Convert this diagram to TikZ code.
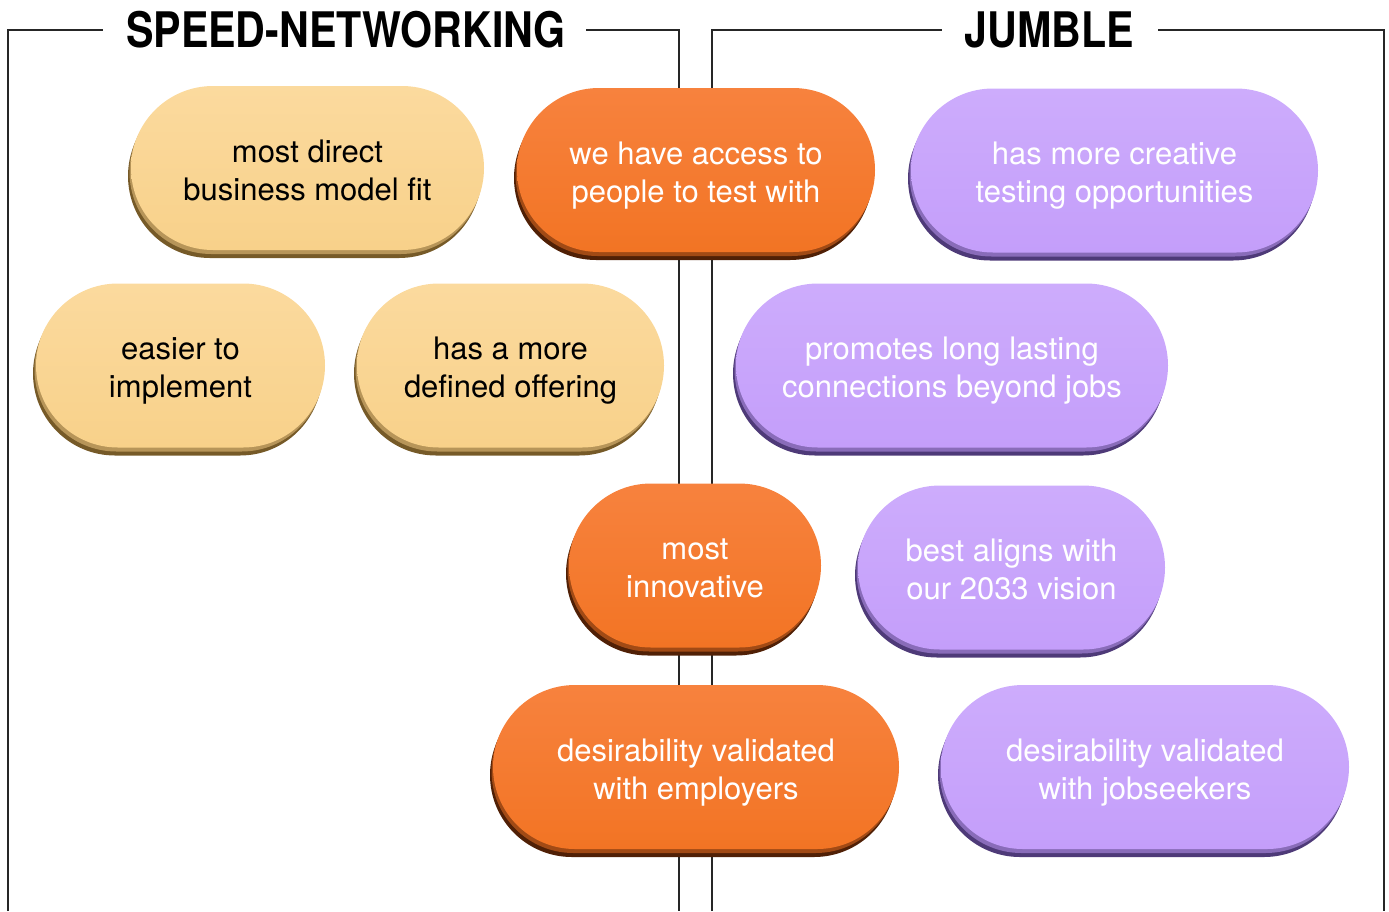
\documentclass[tikz,border=0pt]{standalone}
\usepackage{fontspec}
\setmainfont{TeX Gyre Heros}
\usetikzlibrary{shapes.misc,shadows}
\definecolor{yelface}{RGB}{248,209,138}
\definecolor{yeltop}{RGB}{251,218,158}
\definecolor{yelrim}{RGB}{118,90,40}
\definecolor{orgface}{RGB}{242,116,36}
\definecolor{orgtop}{RGB}{247,130,62}
\definecolor{orgrim}{RGB}{80,32,6}
\definecolor{prpface}{RGB}{196,158,250}
\definecolor{prptop}{RGB}{205,172,252}
\definecolor{prprim}{RGB}{78,58,120}
\begin{document}
\begin{tikzpicture}[x=1pt,y=-1pt,
	frame/.style={line width=2.4pt,black!85},
	title/.style={font=\fontsize{49}{58}\selectfont\bfseries, inner sep=0pt},
	pill/.style={rounded rectangle, minimum height=164pt, inner sep=0pt, align=center,
		text height=64pt, text depth=0pt, font=\fontsize{31}{38}\selectfont},
	yel/.style={pill, top color=yeltop, middle color=yelface, bottom color=yelface, text=black,
		drop shadow={shadow xshift=-3pt, shadow yshift=-8pt, opacity=1, fill=yelrim},
		drop shadow={shadow xshift=-1.5pt, shadow yshift=-4pt, opacity=1, fill=yelrim!50!yelface}},
	org/.style={pill, top color=orgtop, middle color=orgface, bottom color=orgface, text=white,
		drop shadow={shadow xshift=-3pt, shadow yshift=-8pt, opacity=1, fill=orgrim},
		drop shadow={shadow xshift=-1.5pt, shadow yshift=-4pt, opacity=1, fill=orgrim!50!orgface}},
	prp/.style={pill, top color=prptop, middle color=prpface, bottom color=prpface, text=white,
		drop shadow={shadow xshift=-3pt, shadow yshift=-8pt, opacity=1, fill=prprim},
		drop shadow={shadow xshift=-1.5pt, shadow yshift=-4pt, opacity=1, fill=prprim!50!prpface}}]
	\useasboundingbox (0,0) rectangle (1389,911);
	% frames
	\draw[frame] (8,911) -- (8,30) -- (103,30);
	\draw[frame] (586,30) -- (679,30) -- (679,911);
	\draw[frame] (712,911) -- (712,30) -- (942,30);
	\draw[frame] (1158,30) -- (1384,30) -- (1384,911);
	\node[title] (speed) at (346,30) {\scalebox{0.84}[1]{SPEED-NETWORKING}};
	\node[title] (jumble) at (1049,30) {\scalebox{0.84}[1]{JUMBLE}};
	% pills
	\node[yel, minimum width=353pt] (fit) at (307.5,168) {most direct\\business model fit};
	\node[org, minimum width=358pt] (access) at (696,170) {we have access to\\people to test with};
	\node[prp, minimum width=407pt] (creative) at (1114.5,170.5) {has more creative\\testing opportunities};
	\node[yel, minimum width=289pt] (easier) at (180.5,365.5) {easier to\\implement};
	\node[yel, minimum width=307pt] (offering) at (510.5,365.5) {has a more\\defined offering};
	\node[prp, minimum width=432pt] (lasting) at (952,365.5) {promotes long lasting\\connections beyond jobs};
	\node[org, minimum width=252pt] (innov) at (695,565.5) {most\\innovative};
	\node[prp, minimum width=307pt] (vision) at (1011.5,567.5) {best aligns with\\our 2033 vision};
	\node[org, minimum width=406pt] (employ) at (696,767) {desirability validated\\with employers};
	\node[prp, minimum width=408pt] (seekers) at (1145,767) {desirability validated\\with jobseekers};
\end{tikzpicture}
\end{document}
